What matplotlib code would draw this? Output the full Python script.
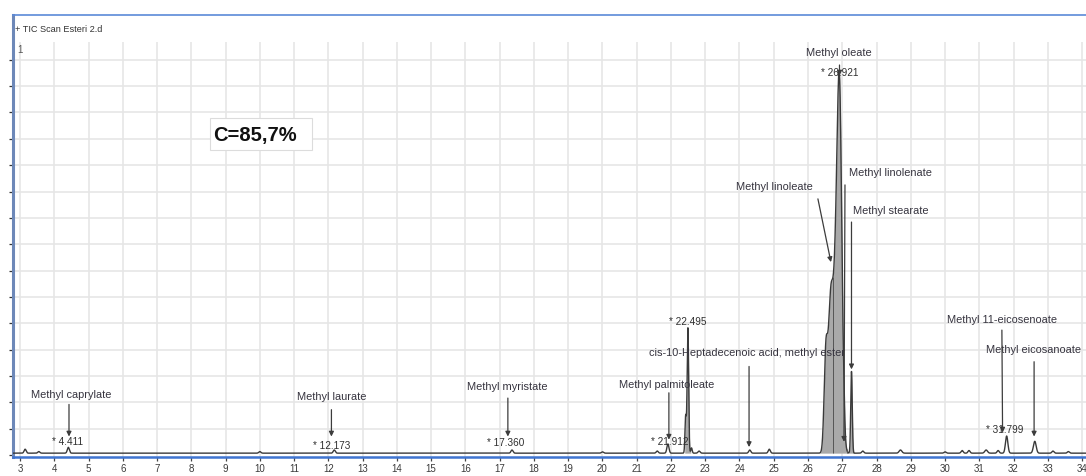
import numpy as np
import matplotlib
matplotlib.use("Agg")
import matplotlib.pyplot as plt
from matplotlib.patches import Rectangle

plt.rcParams['font.family'] = ['Liberation Sans', 'DejaVu Sans']

# ---- TIC peak table: retention time (min), height (grid units), sigma (min)
peak_rt = [3.15, 3.55, 4.411, 10.00, 12.173, 17.360, 20.00, 21.60, 21.912,
           22.43, 22.495, 22.60, 22.82, 24.30, 24.87,
           26.52, 26.66, 26.80, 26.921, 27.05, 27.27,
           27.60, 28.70, 30.00, 30.50, 30.70, 31.20, 31.55, 31.799, 32.62,
           33.15, 33.60]
peak_height = [0.15, 0.06, 0.22, 0.06, 0.12, 0.12, 0.05, 0.08, 0.35,
               1.40, 4.75, 0.20, 0.08, 0.12, 0.15,
               3.50, 5.50, 5.00, 13.20, 0.40, 3.10,
               0.08, 0.12, 0.05, 0.10, 0.10, 0.12, 0.10, 0.65, 0.45,
               0.08, 0.06]
peak_sigma = [0.03, 0.03, 0.03, 0.03, 0.03, 0.03, 0.03, 0.03, 0.03,
              0.02, 0.022, 0.02, 0.03, 0.03, 0.03,
              0.05, 0.07, 0.07, 0.07, 0.02, 0.022,
              0.03, 0.04, 0.03, 0.03, 0.03, 0.04, 0.03, 0.035, 0.04,
              0.03, 0.03]
baseline_level = 0.07

# integrated windows drawn shaded (start, end in min)
integrated_windows = [(22.40, 22.58), (26.35, 27.36)]

# annotated compounds
compound_names = ["Methyl caprylate", "Methyl laurate", "Methyl myristate",
                  "Methyl palmitoleate", "cis-10-Heptadecenoic acid, methyl ester",
                  "Methyl linoleate", "Methyl oleate", "Methyl linolenate",
                  "Methyl stearate", "Methyl 11-eicosenoate", "Methyl eicosanoate"]
compound_rt = [4.43, 12.09, 17.24, 21.94, 24.28, 26.67, 26.92, 27.05, 27.27,
               31.68, 32.60]

# retention times printed next to selected apexes
rt_marked = [4.411, 12.173, 17.360, 21.912, 22.495, 26.921, 31.799]

x_ticks = list(range(3, 35))
sample_name = "+ TIC Scan Esteri 2.d"
conversion_text = "C=85,7%"

# ---- layout of the annotations: (label x, label y, arrow start (x, y), arrow tip y)
name_layout = [
    (4.49, 2.28, (4.43, 1.92), 0.70),
    (12.11, 2.20, (12.09, 1.72), 0.70),
    (17.21, 2.58, (17.24, 2.16), 0.70),
    (21.86, 2.66, (21.94, 2.36), 0.58),
    (24.22, 3.87, (24.28, 3.36), 0.30),
    (25.01, 10.17, (26.29, 9.72), 7.32),
    (26.90, 15.26, (26.92, 14.80), 14.40),
    (28.42, 10.70, (27.08, 10.25), 0.50),
    (28.42, 9.26, (27.27, 8.84), 3.25),
    (31.66, 5.12, (31.66, 4.74), 0.85),
    (32.57, 3.98, (32.60, 3.54), 0.70),
]
rt_layout = [(4.40, 0.49), (12.09, 0.34), (17.19, 0.45), (21.97, 0.49),
             (22.50, 5.05), (26.93, 14.50), (31.75, 0.95)]

# ---- build the trace
t = np.linspace(2.7, 34.3, 16000)
signal = np.full_like(t, baseline_level)
for rt, h, s in zip(peak_rt, peak_height, peak_sigma):
    signal += h * np.exp(-0.5 * ((t - rt) / s) ** 2)

W, H = 1086, 476
fig = plt.figure(figsize=(W / 100, H / 100), dpi=100)
fig.patch.set_facecolor('white')
ax = fig.add_axes([13 / W, (H - 457) / H, 1 - 13 / W, (457 - 15) / H])

px_per_min = 34.26
px_per_unit = 26.35
xmin = 3 - 7 / px_per_min
xmax = 3 + (W - 20) / px_per_min
ymin = -2 / px_per_unit
ymax = (455 - 15) / px_per_unit
ax.set_xlim(xmin, xmax)
ax.set_ylim(ymin, ymax)

grid_top = (455 - 42) / px_per_unit
grid_color = '#e6e6e6'
ax.vlines(x_ticks, ymin, grid_top, color=grid_color, lw=1.2, zorder=0)
ax.hlines(range(1, 16), xmin, xmax, color=grid_color, lw=1.2, zorder=0)

# shaded integrated areas
for a, b in integrated_windows:
    m = (t >= a) & (t <= b)
    ax.fill_between(t[m], baseline_level, signal[m], color='#a9a9a9', lw=0, zorder=2)

ax.plot(t, signal, color='#3a3a3a', lw=1.0, zorder=3)

# drop lines inside the main cluster
for d in [26.73, 27.13]:
    ax.vlines(d, baseline_level, np.interp(d, t, signal), color='#555555', lw=0.7, zorder=3)

# box with the conversion value
bx0 = 3 + (210 - 20) / px_per_min
bx1 = 3 + (312 - 20) / px_per_min
by0 = (455 - 150) / px_per_unit
by1 = (455 - 118) / px_per_unit
ax.add_patch(Rectangle((bx0, by0), bx1 - bx0, by1 - by0, facecolor='white',
                       edgecolor='#dcdcdc', lw=0.8, zorder=4))
ax.text(3 + (213 - 20) / px_per_min, (455 - 136) / px_per_unit, conversion_text,
        fontsize=14.5, fontweight='bold', color='#111111', ha='left', va='center',
        zorder=5)

label_color = '#36343f'
for name, (lx, ly, (ax0, ay0), tip) in zip(compound_names, name_layout):
    ax.text(lx, ly, name, fontsize=7.9, color=label_color, ha='center', va='center',
            zorder=6)
for (lx, ly, (ax0, ay0), tip), rt in zip(name_layout, compound_rt):
    ax.annotate('', xy=(rt, tip), xytext=(ax0, ay0),
                arrowprops=dict(arrowstyle='-|>', color='#3c3c3c', lw=0.9,
                                mutation_scale=7, shrinkA=0, shrinkB=0),
                zorder=6)

for rt, (lx, ly) in zip(rt_marked, rt_layout):
    ax.text(lx, ly, f"* {rt:.3f}", fontsize=7.2, color='#2f2f2f', ha='center',
            va='center', zorder=6)

ax.text(2.85, (455 - 30) / px_per_unit, sample_name, fontsize=6.6, color='#333333',
        ha='left', va='center')
ax.text(2.93, (455 - 50) / px_per_unit, "1", fontsize=7, color='#555555',
        ha='left', va='center')

# axes frame
ax.spines['right'].set_visible(False)
ax.spines['left'].set_color('#6d88b8')
ax.spines['left'].set_linewidth(2.2)
ax.spines['bottom'].set_color('#3f74d0')
ax.spines['bottom'].set_linewidth(1.8)
ax.spines['top'].set_color('#5b8ad8')
ax.spines['top'].set_linewidth(1.2)

ax.set_xticks(x_ticks)
ax.set_xticklabels([str(v) for v in x_ticks], fontsize=7, color='#3a3a3a')
ax.set_yticks(range(0, 16))
ax.set_yticklabels([])
ax.tick_params(axis='x', length=3.2, width=0.9, color='#444444', pad=2.2)
ax.tick_params(axis='y', length=3.0, width=0.9, color='#333333')

fig.savefig('out.png', dpi=100, facecolor='white')
